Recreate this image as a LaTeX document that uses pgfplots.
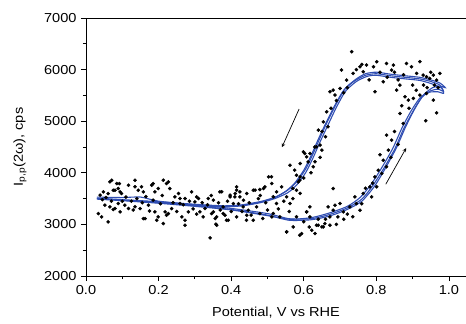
\documentclass[border=0pt]{standalone}
\usepackage{fontspec}
\setmainfont{Liberation Sans}[FakeStretch=1.12]
\usepackage{pgfplots}
\pgfplotsset{compat=1.18}
\definecolor{cvblue}{RGB}{48,78,178}
\begin{document}
\fontsize{13pt}{15pt}\selectfont
\begin{tikzpicture}
\begin{axis}[
  scale only axis, width=380pt, height=258pt,
  xmin=0, xmax=1.047, ymin=2000, ymax=7000,
  axis y line*=left, axis x line*=box,
  xtick pos=bottom, ytick pos=left,
  axis line style={line width=0.9pt},
  tick style={line width=0.8pt, black},
  tick align=outside, major tick length=5pt, minor tick length=3pt,
  xtick={0,0.2,0.4,0.6,0.8,1.0}, minor x tick num=1,
  ytick={2000,3000,4000,5000,6000,7000}, minor y tick num=1,
  scaled y ticks=false,
  /pgf/number format/assume math mode=true,
  xticklabel style={/pgf/number format/.cd, fixed, fixed zerofill, precision=1},
  yticklabel style={/pgf/number format/.cd, 1000 sep={}},
  every axis y label/.style={at={(axis description cs:0,0.5)}, xshift=-66pt, rotate=90, anchor=center},
  every axis x label/.style={at={(axis description cs:0.5,0)}, yshift=-37pt, anchor=center},
  xlabel={Potential, V vs RHE},
  ylabel={I\textsubscript{p,p}(2ω), cps},
]
\coordinate (BL) at (rel axis cs:0,0);
\coordinate (TR) at (rel axis cs:1,1);
% measured points
\addplot[only marks, mark=*, mark size=1.6pt, black] table {
x y
0.071 3857
0.085 3792
0.089 3695
0.080 3663
0.094 3631
0.135 3857
0.117 3760
0.144 3663
0.158 3631
0.185 3792
0.199 3695
0.213 3857
0.222 3792
0.231 3695
0.190 3631
0.291 3631
0.039 3566
0.048 3631
0.061 3598
0.034 3210
0.043 3146
0.061 3049
0.052 3372
0.066 3340
0.080 3307
0.089 3404
0.107 3372
0.117 3307
0.135 3340
0.149 3307
0.163 3113
0.172 3372
0.190 3243
0.199 3146
0.195 3081
0.213 3016
0.218 3243
0.227 3210
0.236 3307
0.245 3534
0.259 3501
0.273 3501
0.273 3081
0.264 3146
0.282 3243
0.300 3437
0.310 3501
0.314 3243
0.328 3307
0.337 3501
0.323 3146
0.342 2738
0.346 3210
0.351 3469
0.066 3825
0.092 3792
0.075 3663
0.098 3598
0.094 3243
0.135 3728
0.153 3728
0.158 3113
0.181 3760
0.227 3825
0.222 3178
0.259 3404
0.273 2984
0.305 3534
0.356 3113
0.358 3004
0.369 3631
0.383 3178
0.397 3534
0.406 3404
0.415 3728
0.424 3631
0.433 3340
0.447 3275
0.461 3663
0.475 3501
0.487 3113
0.493 3728
0.503 3922
0.512 3792
0.516 3534
0.525 3404
0.512 3146
0.392 3081
0.415 3146
0.442 3081
0.378 3340
0.374 3631
0.397 3566
0.411 3598
0.424 3534
0.434 3469
0.479 3676
0.525 3631
0.539 3728
0.553 3534
0.562 4148
0.575 4051
0.589 3857
0.580 3663
0.562 3404
0.351 3243
0.360 3146
0.378 3210
0.387 3081
0.443 3178
0.461 3081
0.479 3210
0.516 3210
0.534 3146
0.360 2984
0.553 2855
0.589 2790
0.608 3243
0.617 3146
0.635 2984
0.654 2952
0.672 2984
0.622 2887
0.667 3340
0.681 3275
0.694 3146
0.608 4310
0.617 4374
0.599 4407
0.631 4213
0.650 4439
0.580 3954
0.590 4180
0.603 4374
0.612 4213
0.626 4116
0.635 4504
0.645 4536
0.640 4827
0.654 4989
0.667 4892
0.663 5183
0.672 5571
0.681 5603
0.686 5506
0.700 5635
0.704 5991
0.718 5797
0.732 6347
0.736 5926
0.755 6056
0.764 5959
0.773 6088
0.792 6056
0.801 6153
0.796 5571
0.819 5765
0.828 6120
0.842 5991
0.847 6088
0.856 5603
0.865 5700
0.883 6120
0.897 6056
0.911 5926
0.920 6153
0.929 5894
0.938 5862
0.947 5829
0.957 5894
0.966 5797
0.975 5926
0.879 5474
0.888 5409
0.902 5441
0.920 5506
0.938 5538
0.957 5409
0.936 5008
0.966 5163
0.681 3695
0.865 5150
0.874 4956
0.828 4730
0.842 4633
0.833 4439
0.819 4245
0.828 4116
0.815 3986
0.796 3922
0.801 3728
0.782 3728
0.787 3534
0.764 3598
0.745 3404
0.755 3275
0.727 3340
0.709 3243
0.700 3404
0.686 3372
0.672 3146
0.658 3016
0.650 2952
0.640 2984
0.631 2822
0.594 2822
0.553 2855
0.571 2952
0.617 3340
0.608 3243
0.741 3534
0.511 3922
0.489 3695
0.466 3663
0.443 3598
0.415 3663
0.410 3534
0.590 3922
0.585 3825
0.045 3480
0.055 3520
0.070 3450
0.075 3290
0.100 3450
0.110 3530
0.125 3450
0.130 3280
0.140 3500
0.155 3420
0.165 3540
0.175 3260
0.185 3470
0.205 3400
0.210 3560
0.240 3420
0.250 3250
0.255 3600
0.268 3380
0.285 3450
0.295 3300
0.305 3200
0.320 3420
0.335 3380
0.345 3560
0.365 3420
0.370 3280
0.390 3450
0.400 3250
0.420 3400
0.430 3250
0.450 3420
0.455 3180
0.470 3340
0.480 3560
0.495 3420
0.500 3280
0.530 3300
0.545 3450
0.570 3500
0.560 3250
0.580 3150
0.600 3050
0.615 2950
0.640 3100
0.660 3100
0.690 3000
0.710 3100
0.720 3200
0.735 3150
0.760 3400
0.770 3700
0.790 3800
0.805 4050
0.810 4350
0.840 4300
0.850 4800
0.860 4550
0.870 5300
0.890 5250
0.900 5700
0.910 5600
0.930 5700
0.940 5650
0.950 5950
0.960 5700
0.970 5650
0.850 5950
0.860 5800
0.875 5900
0.830 5850
0.810 5950
0.780 5800
0.760 6100
0.745 6000
0.720 5650
0.710 5550
0.690 5400
0.675 5250
0.660 4700
0.650 4800
0.645 4300
0.630 4500
0.620 4000
0.600 3900
0.590 3600
0.570 3700
};
% three voltammetric cycles
\addplot[cvblue, line width=1.1pt, smooth, tension=0.4] coordinates {
(0.03,3530)(0.1,3520)(0.15,3530)(0.2,3450)(0.3,3380)(0.4,3310)(0.5,3210)(0.56,3110)(0.62,3110)(0.67,3190)(0.72,3320)(0.76,3490)(0.79,3750)(0.82,4080)(0.85,4450)(0.875,4850)(0.9,5180)(0.925,5460)(0.95,5590)(0.97,5620)(0.985,5580)(0.975,5700)(0.95,5770)(0.92,5820)(0.88,5850)(0.84,5880)(0.80,5920)(0.77,5890)(0.74,5780)(0.71,5600)(0.685,5300)(0.66,4950)(0.64,4650)(0.62,4330)(0.60,4050)(0.575,3800)(0.55,3640)(0.52,3520)(0.48,3430)(0.43,3370)(0.38,3350)(0.3,3380)(0.2,3430)(0.1,3470)(0.03,3500)
};
\addplot[cvblue, line width=1.1pt, smooth, tension=0.4] coordinates {
(0.03,3500)(0.1,3470)(0.2,3420)(0.3,3360)(0.4,3290)(0.5,3180)(0.56,3080)(0.62,3090)(0.67,3160)(0.72,3290)(0.76,3450)(0.795,3740)(0.825,4090)(0.855,4480)(0.88,4880)(0.905,5230)(0.93,5510)(0.955,5650)(0.975,5680)(0.99,5650)(0.975,5740)(0.95,5800)(0.92,5850)(0.88,5880)(0.84,5910)(0.80,5950)(0.77,5920)(0.745,5820)(0.715,5640)(0.69,5340)(0.665,4990)(0.645,4680)(0.625,4360)(0.605,4070)(0.58,3820)(0.555,3660)(0.525,3540)(0.485,3450)(0.43,3380)(0.38,3360)(0.3,3390)(0.2,3440)(0.1,3480)(0.03,3510)
};
\addplot[cvblue, line width=1.1pt, smooth, tension=0.4] coordinates {
(0.03,3490)(0.1,3460)(0.2,3410)(0.3,3350)(0.4,3280)(0.5,3170)(0.56,3100)(0.62,3130)(0.67,3220)(0.72,3350)(0.755,3520)(0.785,3770)(0.815,4100)(0.845,4470)(0.87,4860)(0.895,5190)(0.92,5450)(0.945,5560)(0.97,5570)(0.985,5540)(0.98,5640)(0.955,5720)(0.92,5790)(0.88,5820)(0.84,5850)(0.80,5890)(0.775,5870)(0.745,5770)(0.715,5580)(0.69,5270)(0.665,4900)(0.645,4600)(0.625,4280)(0.605,4000)(0.58,3760)(0.555,3610)(0.52,3500)(0.48,3420)(0.43,3360)(0.38,3340)(0.3,3370)(0.2,3420)(0.1,3460)(0.03,3490)
};
% scan direction arrows
\draw[->, >=stealth, line width=0.7pt] (axis cs:0.587,5234) -- (axis cs:0.540,4497);
\draw[->, >=stealth, line width=0.7pt] (axis cs:0.826,3779) -- (axis cs:0.882,4478);
\end{axis}
\pgfresetboundingbox
\path ([shift={(-86pt,-48pt)}]BL) rectangle ([shift={(0pt,18pt)}]TR);
\end{tikzpicture}
\end{document}
